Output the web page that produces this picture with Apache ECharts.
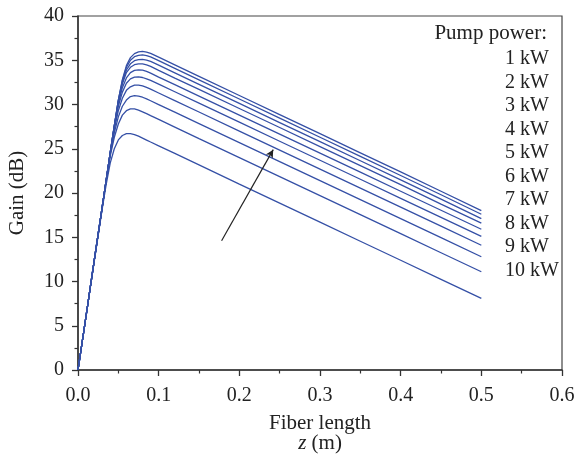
<!DOCTYPE html>
<html>
<head>
<meta charset="utf-8">
<script src="https://cdn.jsdelivr.net/npm/echarts@6/dist/echarts.min.js"></script>
<style>
  html, body { margin: 0; padding: 0; background: #fff; }
  #chart { width: 576px; height: 455px; }
</style>
</head>
<body>
<div id="chart"></div>
<script>
// fiber length z (m)
const zValues = [0, 0.01, 0.02, 0.03, 0.035, 0.04, 0.045, 0.05, 0.055, 0.06, 0.065, 0.07, 0.075,
  0.08, 0.085, 0.09, 0.1, 0.12, 0.15, 0.2, 0.25, 0.3, 0.35, 0.4, 0.45, 0.5];

// pump power (kW)
const powers = [1, 2, 3, 4, 5, 6, 7, 8, 9, 10];

// gain (dB), one list per pump power
const gain1 = [0, 6.1, 12.2, 18.2, 21.0, 23.4, 25.0, 26.0, 26.5, 26.7, 26.7, 26.6, 26.42, 26.2, 25.98, 25.76, 25.33, 24.47, 23.18, 21.0, 18.85, 16.7, 14.55, 12.4, 10.25, 8.1];
const gain2 = [0, 6.1, 12.3, 18.4, 21.4, 24.2, 26.3, 27.8, 28.8, 29.3, 29.5, 29.5, 29.37, 29.17, 28.96, 28.74, 28.31, 27.45, 26.15, 24.0, 21.85, 19.7, 17.55, 15.4, 13.25, 11.1];
const gain3 = [0, 6.1, 12.3, 18.4, 21.5, 24.4, 26.8, 28.6, 29.8, 30.5, 30.9, 31.0, 30.95, 30.82, 30.63, 30.42, 29.99, 29.13, 27.84, 25.7, 23.55, 21.4, 19.25, 17.1, 14.95, 12.8];
const gain4 = [0, 6.1, 12.3, 18.4, 21.5, 24.5, 27.2, 29.3, 30.7, 31.6, 32.0, 32.2, 32.2, 32.1, 31.93, 31.73, 31.3, 30.44, 29.15, 27.0, 24.85, 22.7, 20.55, 18.4, 16.25, 14.1];
const gain5 = [0, 6.1, 12.3, 18.4, 21.5, 24.5, 27.4, 29.8, 31.4, 32.4, 32.9, 33.1, 33.12, 33.05, 32.9, 32.72, 32.3, 31.44, 30.15, 28.0, 25.85, 23.7, 21.55, 19.4, 17.25, 15.1];
const gain6 = [0, 6.1, 12.3, 18.4, 21.5, 24.6, 27.5, 30.1, 31.9, 33.0, 33.6, 33.85, 33.92, 33.88, 33.75, 33.55, 33.1, 32.24, 30.95, 28.8, 26.65, 24.5, 22.35, 20.2, 18.05, 15.9];
const gain7 = [0, 6.1, 12.3, 18.4, 21.5, 24.6, 27.6, 30.3, 32.3, 33.6, 34.2, 34.5, 34.6, 34.58, 34.47, 34.3, 33.85, 32.98, 31.7, 29.55, 27.4, 25.25, 23.1, 20.95, 18.75, 16.6];
const gain8 = [0, 6.1, 12.3, 18.4, 21.5, 24.6, 27.6, 30.4, 32.5, 33.9, 34.6, 34.95, 35.08, 35.1, 35.02, 34.87, 34.45, 33.58, 32.28, 30.12, 27.96, 25.8, 23.64, 21.48, 19.3, 17.1];
const gain9 = [0, 6.1, 12.3, 18.4, 21.5, 24.6, 27.6, 30.5, 32.7, 34.2, 35.0, 35.4, 35.55, 35.6, 35.53, 35.38, 34.95, 34.08, 32.78, 30.62, 28.46, 26.3, 24.14, 21.98, 19.8, 17.6];
const gain10 = [0, 6.1, 12.3, 18.4, 21.5, 24.6, 27.6, 30.5, 32.8, 34.4, 35.3, 35.75, 35.95, 36.0, 35.93, 35.78, 35.35, 34.48, 33.18, 31.02, 28.86, 26.7, 24.54, 22.38, 20.2, 18.0];
const gains = [gain1, gain2, gain3, gain4, gain5, gain6, gain7, gain8, gain9, gain10];

// arrow in the plot (z, dB)
const arrowFrom = [0.178, 14.6];
const arrowTo = [0.242, 24.9];

const font = 'Liberation Serif';
const axisColor = '#333';
const textColor = '#222';

const chart = echarts.init(document.getElementById('chart'));

const series = gains.map((g, i) => ({
  name: powers[i] + ' kW',
  type: 'line',
  data: zValues.map((z, j) => [z, g[j]]),
  symbol: 'none',
  lineStyle: { color: '#3550a6', width: 1.3 },
  silent: true,
}));

// arrow drawn as a markLine on the first series
series[0].markLine = {
  silent: true,
  symbol: ['none', 'arrow'],
  symbolSize: [6, 8],
  label: { show: false },
  lineStyle: { color: '#222', width: 1.2, type: 'solid' },
  data: [[{ coord: arrowFrom }, { coord: arrowTo }]],
};

const graphics = [{
  type: 'text',
  right: 29,
  top: 23,
  style: { text: 'Pump power:', font: '21px "' + font + '"', fill: textColor },
}].concat(powers.map((p, i) => ({
  type: 'text',
  left: 505,
  top: 49 + i * 23.5,
  style: { text: p + ' kW', font: '20px "' + font + '"', fill: textColor },
})));

chart.setOption({
  animation: false,
  grid: {
    left: 78, right: 14, top: 16, bottom: 85,
    outerBoundsMode: 'none',
    show: true, borderColor: '#444', borderWidth: 1.2,
  },
  xAxis: {
    type: 'value',
    min: 0, max: 0.6, interval: 0.1,
    name: 'Fiber length\n{i|z} (m)',
    nameLocation: 'middle',
    nameGap: 43,
    nameTextStyle: {
      fontFamily: font, fontSize: 21, color: textColor, lineHeight: 20,
      rich: { i: { fontFamily: font, fontSize: 21, fontStyle: 'italic', color: textColor } },
    },
    axisLine: { lineStyle: { color: axisColor, width: 1.5 } },
    axisTick: { length: 6, lineStyle: { color: axisColor, width: 1.3 } },
    minorTick: { show: true, splitNumber: 2, length: 3.5, lineStyle: { color: axisColor, width: 1.2 } },
    splitLine: { show: false },
    axisLabel: { fontFamily: font, fontSize: 20, color: textColor, margin: 16,
      formatter: v => v.toFixed(1) },
  },
  yAxis: {
    type: 'value',
    min: 0, max: 40, interval: 5,
    name: 'Gain (dB)',
    nameLocation: 'middle',
    nameGap: 50,
    nameTextStyle: { fontFamily: font, fontSize: 21, color: textColor },
    axisLine: { lineStyle: { color: axisColor, width: 1.5 } },
    axisTick: { length: 6, lineStyle: { color: axisColor, width: 1.3 } },
    minorTick: { show: true, splitNumber: 2, length: 3.5, lineStyle: { color: axisColor, width: 1.2 } },
    splitLine: { show: false },
    axisLabel: { fontFamily: font, fontSize: 20, color: textColor, margin: 14 },
  },
  graphic: graphics,
  series: series,
});
</script>
</body>
</html>
